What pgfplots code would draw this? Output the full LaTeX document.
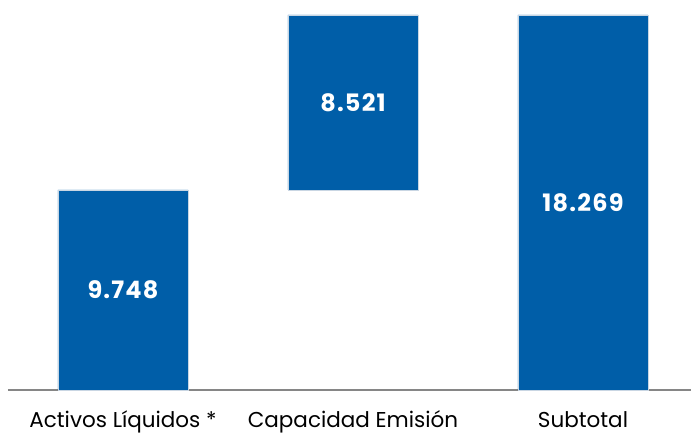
\documentclass[border=0pt]{standalone}
\usepackage{pgfplots}
\pgfplotsset{compat=1.18}
\usepackage{fontspec}
\setmainfont{Poppins}
\definecolor{barblue}{HTML}{005EA8}
\definecolor{edgeblue}{HTML}{C9D6E3}
\newcommand{\lab}[1]{{\fontsize{21.5}{25}\selectfont #1}}
\begin{document}
\begin{tikzpicture}
\useasboundingbox (0,0) rectangle (691pt,435pt);
\begin{axis}[
  at={(8pt,45pt)}, anchor=south west,
  scale only axis, width=683pt, height=375pt,
  xmin=-0.5, xmax=2.4696, ymin=0, ymax=18269,
  ybar stacked, bar width=130pt,
  axis y line=none, axis x line*=bottom,
  x axis line style={draw=gray!95, line width=2.5pt, -},
  xtick=data, xticklabels={\lab{Activos Líquidos *}, \lab{Capacidad Emisión}, \lab{Subtotal}},
  major tick length=0pt,
  xticklabel style={anchor=base, yshift=-37.5pt},
  clip=false,
]
\addplot[draw=none, fill=none] coordinates {(0,0) (1,9748) (2,0)};
\addplot[fill=barblue, draw=edgeblue, line width=0.8pt] coordinates {(0,9748) (1,8521) (2,18269)};
\end{axis}
\begin{axis}[
  at={(8pt,45pt)}, anchor=south west,
  scale only axis, width=683pt, height=375pt,
  xmin=-0.5, xmax=2.4696, ymin=0, ymax=18269,
  hide axis, clip=false,
]
\addplot[only marks, mark=none, nodes near coords, point meta=explicit symbolic,
  nodes near coords align=center,
  every node near coord/.append style={font=\fontsize{24}{27}\selectfont\bfseries\addfontfeature{LetterSpace=5}, text=white, anchor=center}]
  coordinates {(0,4874)[9.748] (1,14008.5)[8.521] (2,9134.5)[18.269]};
\end{axis}
\end{tikzpicture}
\end{document}
